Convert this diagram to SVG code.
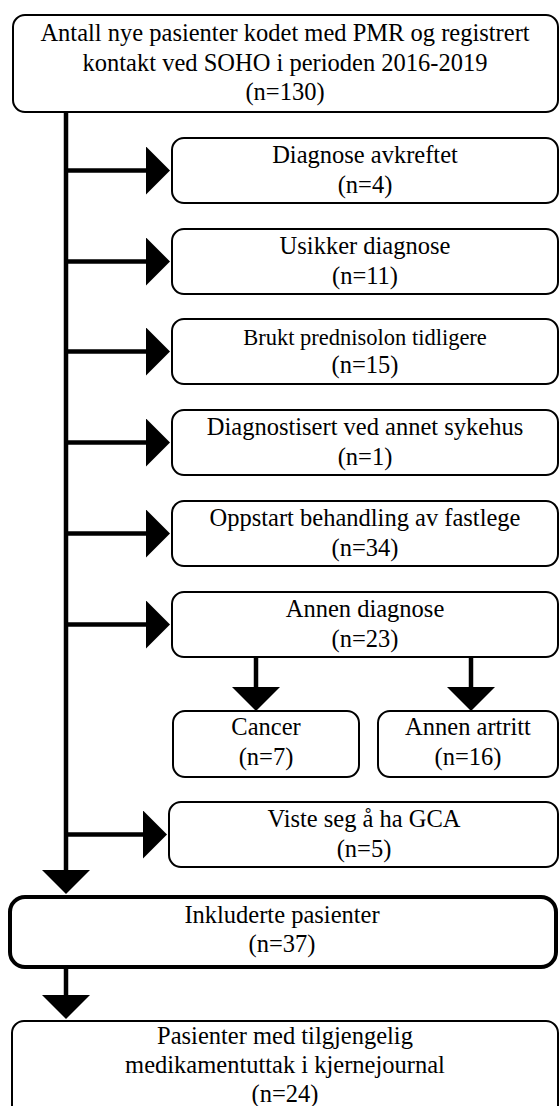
<svg xmlns="http://www.w3.org/2000/svg" width="560" height="1106" viewBox="0 0 560 1106">
<style>
.box{fill:#fff;stroke:#000;stroke-width:2}
.bold{fill:#fff;stroke:#000;stroke-width:4}
text{font-family:'Liberation Serif','Times New Roman',Tinos,'DejaVu Serif',serif;font-size:24.5px;fill:#000;text-anchor:middle}
.s{font-size:22.5px}
.c{fill:none;stroke:#000;stroke-width:4.5}
</style>
<defs>
<marker id="ah" markerUnits="userSpaceOnUse" markerWidth="24" markerHeight="48" viewBox="0 0 24 48" refX="0" refY="24" orient="auto">
<path d="M0,0 L24,24 L0,48 Z" fill="#000"/>
</marker>
</defs>
<rect width="560" height="1106" fill="#fff"/>
<g id="connectors">
<line class="c" x1="66" y1="112" x2="66" y2="870" marker-end="url(#ah)"/>
<line class="c" x1="66" y1="170.5" x2="146" y2="170.5" marker-end="url(#ah)"/>
<line class="c" x1="66" y1="261.5" x2="146" y2="261.5" marker-end="url(#ah)"/>
<line class="c" x1="66" y1="351.5" x2="146" y2="351.5" marker-end="url(#ah)"/>
<line class="c" x1="66" y1="442.5" x2="146" y2="442.5" marker-end="url(#ah)"/>
<line class="c" x1="66" y1="533.5" x2="146" y2="533.5" marker-end="url(#ah)"/>
<line class="c" x1="66" y1="624.5" x2="146" y2="624.5" marker-end="url(#ah)"/>
<line class="c" x1="66" y1="834.5" x2="143" y2="834.5" marker-end="url(#ah)"/>
<line class="c" x1="256" y1="657" x2="256" y2="687" marker-end="url(#ah)"/>
<line class="c" x1="471" y1="657" x2="471" y2="687" marker-end="url(#ah)"/>
<line class="c" x1="66" y1="969" x2="66" y2="995" marker-end="url(#ah)"/>
</g>
<g id="start">
<rect class="box" x="13" y="15" width="545" height="97" rx="12"/>
<text x="285" y="41" font-family="Liberation Serif, serif">Antall nye pasienter kodet med PMR og registrert</text>
<text x="285" y="70.5" font-family="Liberation Serif, serif">kontakt ved SOHO i perioden 2016-2019</text>
<text x="285" y="100" font-family="Liberation Serif, serif">(n=130)</text>
</g>
<g id="avkreftet">
<rect class="box" x="172" y="138" width="386" height="65" rx="12"/>
<text x="365" y="163">Diagnose avkreftet</text>
<text x="365" y="192.5">(n=4)</text>
</g>
<g id="usikker">
<rect class="box" x="172" y="229" width="386" height="65" rx="12"/>
<text x="365" y="254">Usikker diagnose</text>
<text x="365" y="283.5">(n=11)</text>
</g>
<g id="prednisolon">
<rect class="box" x="172" y="319" width="386" height="65" rx="12"/>
<text class="s" x="365" y="345">Brukt prednisolon tidligere</text>
<text x="365" y="373">(n=15)</text>
</g>
<g id="sykehus">
<rect class="box" x="172" y="410" width="386" height="65" rx="12"/>
<text x="365" y="435">Diagnostisert ved annet sykehus</text>
<text x="365" y="464.5">(n=1)</text>
</g>
<g id="fastlege">
<rect class="box" x="172" y="501" width="386" height="65" rx="12"/>
<text x="365" y="526">Oppstart behandling av fastlege</text>
<text x="365" y="555.5">(n=34)</text>
</g>
<g id="annen">
<rect class="box" x="172" y="592" width="386" height="65" rx="12"/>
<text x="365" y="617">Annen diagnose</text>
<text x="365" y="646.5">(n=23)</text>
</g>
<g id="cancer">
<rect class="box" x="173" y="711" width="186" height="66" rx="12"/>
<text x="266" y="735">Cancer</text>
<text x="266" y="765">(n=7)</text>
</g>
<g id="artritt">
<rect class="box" x="378" y="711" width="180" height="66" rx="12"/>
<text x="468" y="735">Annen artritt</text>
<text x="468" y="765">(n=16)</text>
</g>
<g id="gca">
<rect class="box" x="169" y="802" width="389" height="65" rx="12"/>
<text x="364" y="827">Viste seg å ha GCA</text>
<text x="364" y="856.5">(n=5)</text>
</g>
<g id="inkluderte">
<rect class="bold" x="10" y="897" width="546" height="70" rx="15"/>
<text x="282" y="923">Inkluderte pasienter</text>
<text x="282" y="952">(n=37)</text>
</g>
<g id="kjernejournal">
<rect class="box" x="12" y="1021" width="546" height="100" rx="12"/>
<text x="285" y="1043.5">Pasienter med tilgjengelig</text>
<text x="285" y="1073">medikamentuttak i kjernejournal</text>
<text x="285" y="1102">(n=24)</text>
</g>
</svg>
